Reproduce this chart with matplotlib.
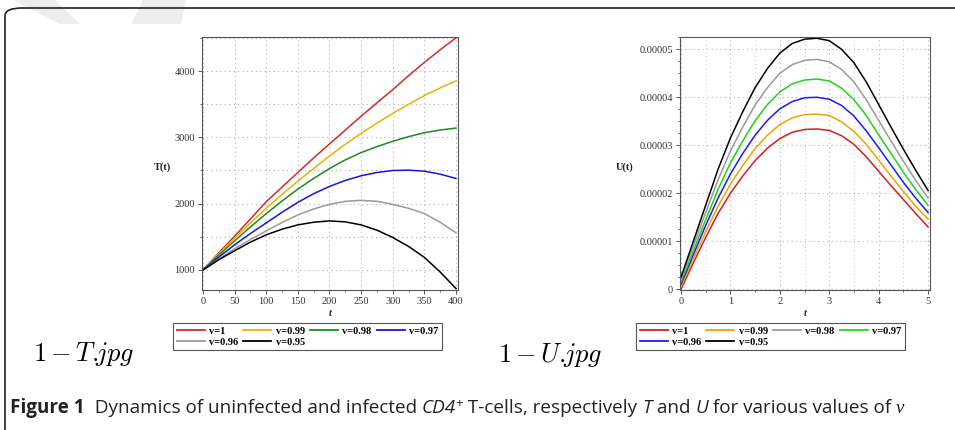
"""Recreation of Figure 1: T(t) and U(t) for various values of nu."""

import matplotlib

matplotlib.use("Agg")
import matplotlib.pyplot as plt
import matplotlib.ticker as mticker
from matplotlib.lines import Line2D
from matplotlib.patches import FancyBboxPatch, Polygon

# ---- data ----
nu_labels = ["v=1", "v=0.99", "v=0.98", "v=0.97", "v=0.96", "v=0.95"]

t_days = [0, 25, 50, 75, 100, 125, 150, 175, 200, 225, 250, 275, 300, 325, 350, 375, 400]
T_nu_100 = [1000, 1260, 1510, 1770, 2030, 2250, 2470, 2690, 2900, 3110, 3320, 3520, 3720, 3930, 4130, 4320, 4500]
T_nu_099 = [1000, 1245, 1480, 1710, 1930, 2140, 2340, 2530, 2720, 2895, 3060, 3215, 3360, 3500, 3630, 3745, 3850]
T_nu_098 = [1000, 1225, 1440, 1650, 1850, 2040, 2220, 2380, 2530, 2660, 2770, 2860, 2940, 3010, 3070, 3110, 3140]
T_nu_097 = [1000, 1195, 1380, 1550, 1710, 1870, 2020, 2150, 2260, 2350, 2420, 2470, 2500, 2505, 2490, 2445, 2380]
T_nu_096 = [1000, 1165, 1320, 1460, 1590, 1715, 1830, 1920, 1990, 2035, 2050, 2035, 1990, 1930, 1850, 1720, 1560]
T_nu_095 = [1000, 1155, 1290, 1420, 1530, 1615, 1680, 1720, 1740, 1725, 1680, 1600, 1490, 1355, 1190, 970, 720]

t_u = [0, 0.25, 0.5, 0.75, 1, 1.25, 1.5, 1.75, 2, 2.25, 2.5, 2.75, 3, 3.25, 3.5, 3.75, 4, 4.25, 4.5, 4.75, 5]
# U values in units of 1e-5
U_nu_100 = [0.0, 0.55, 1.08, 1.58, 2.0, 2.36, 2.68, 2.94, 3.14, 3.27, 3.33, 3.34, 3.31, 3.2, 3.02, 2.76, 2.46, 2.16, 1.87, 1.58, 1.3]
U_nu_099 = [0.05, 0.63, 1.2, 1.73, 2.19, 2.58, 2.93, 3.21, 3.43, 3.57, 3.64, 3.65, 3.62, 3.49, 3.29, 3.02, 2.69, 2.36, 2.04, 1.73, 1.46]
U_nu_098 = [0.1, 0.72, 1.33, 1.9, 2.4, 2.83, 3.21, 3.52, 3.76, 3.91, 3.99, 4.0, 3.96, 3.83, 3.61, 3.3, 2.95, 2.59, 2.23, 1.9, 1.6]
U_nu_097 = [0.15, 0.8, 1.45, 2.08, 2.63, 3.09, 3.51, 3.85, 4.11, 4.28, 4.36, 4.38, 4.34, 4.19, 3.95, 3.62, 3.22, 2.83, 2.44, 2.08, 1.75]
U_nu_096 = [0.2, 0.9, 1.6, 2.28, 2.88, 3.38, 3.84, 4.2, 4.5, 4.68, 4.77, 4.79, 4.74, 4.58, 4.32, 3.95, 3.52, 3.09, 2.67, 2.27, 1.9]
U_nu_095 = [0.25, 1.0, 1.75, 2.5, 3.15, 3.7, 4.2, 4.6, 4.92, 5.12, 5.21, 5.23, 5.18, 5.0, 4.72, 4.32, 3.85, 3.38, 2.92, 2.48, 2.06]

T_series = [T_nu_100, T_nu_099, T_nu_098, T_nu_097, T_nu_096, T_nu_095]
U_series = [U_nu_100, U_nu_099, U_nu_098, U_nu_097, U_nu_096, U_nu_095]

# colours differ between the two panels (Maple defaults)
T_colors = ["#d42a2a", "#e8b400", "#1c8a1c", "#1616d8", "#9a9a9a", "#000000"]
U_colors = ["#d41e1e", "#f0a400", "#9a9a9a", "#1fd21f", "#1a1aff", "#000000"]
U_legend_labels = ["v=1", "v=0.99", "v=0.98", "v=0.97", "v=0.96", "v=0.95"]
# which U series each U legend entry belongs to (gray/green/blue swap)
U_order = [0, 1, 4, 3, 2, 5]

W, H = 955, 430
SERIF = "Liberation Serif"
TICK_COLOR = "#333333"


def fx(px):
    return px / W


def fy(py):
    return 1 - py / H


def style_axes(ax):
    ax.grid(True, which="major", linestyle=(0, (1, 3)), color="#b0b0b0", linewidth=0.8)
    for sp in ax.spines.values():
        sp.set_color("#555555")
        sp.set_linewidth(0.8)
    ax.tick_params(axis="both", which="major", direction="out", length=3, width=0.7,
                   colors="#555555", labelcolor=TICK_COLOR, labelsize=7.5, pad=2)
    ax.tick_params(axis="both", which="minor", direction="out", length=1.5, width=0.6,
                   colors="#555555")
    for lab in ax.get_xticklabels() + ax.get_yticklabels():
        lab.set_fontfamily(SERIF)


def add_legend(fig, handles, labels, left_px, top_px):
    leg = fig.legend(handles, labels, ncol=4, loc="upper left",
                     bbox_to_anchor=(fx(left_px), fy(top_px)), borderaxespad=0,
                     frameon=True, fancybox=False, framealpha=1, edgecolor="#555555",
                     prop={"family": SERIF, "weight": "bold", "size": 7.5},
                     handlelength=2.7, handletextpad=0.4, columnspacing=0.5,
                     labelspacing=0.15, borderpad=0.35)
    leg.get_frame().set_linewidth(0.8)
    return leg


def row_major(items):
    # reorder so a 2-row, 4-column legend reads across rows
    return [items[0], items[4], items[1], items[5], items[2], items[3]]


fig = plt.figure(figsize=(W / 100, H / 100), dpi=100)
fig.patch.set_facecolor("white")

# ---- watermark and card border ----
fig.patches.append(Polygon([(fx(13), fy(0)), (fx(55), fy(0)), (fx(80), fy(24)), (fx(60), fy(24))],
                           closed=True, transform=fig.transFigure, facecolor="#ededed",
                           edgecolor="none", zorder=0))
fig.patches.append(Polygon([(fx(143), fy(0)), (fx(186), fy(0)), (fx(181), fy(24)), (fx(131), fy(24))],
                           closed=True, transform=fig.transFigure, facecolor="#ededed",
                           edgecolor="none", zorder=0))
fig.patches.append(FancyBboxPatch((fx(5), fy(470)), fx(1000), fy(8) - fy(470),
                                  boxstyle="round,pad=0,rounding_size=0.018",
                                  transform=fig.transFigure, facecolor="none",
                                  edgecolor="#222222", linewidth=1.2, zorder=1))

# ---- left panel: T(t) ----
ax_t = fig.add_axes([fx(202), fy(290), fx(458) - fx(202), fy(37) - fy(290)])
for vals, col in zip(T_series, T_colors):
    ax_t.plot(t_days, vals, color=col, linewidth=1.1)
ax_t.set_xlim(-1.6, 403.2)
ax_t.set_ylim(698, 4513)
ax_t.xaxis.set_major_locator(mticker.MultipleLocator(50))
ax_t.xaxis.set_minor_locator(mticker.MultipleLocator(25))
ax_t.yaxis.set_major_locator(mticker.MultipleLocator(1000))
style_axes(ax_t)
ax_t.yaxis.set_minor_locator(mticker.MultipleLocator(500))
ax_t.grid(True, which="minor", axis="y", linestyle=(0, (1, 3)), color="#b0b0b0", linewidth=0.8)

# ---- right panel: U(t) ----
ax_u = fig.add_axes([fx(680), fy(290), fx(930) - fx(680), fy(37) - fy(290)])
for vals, col in zip(U_series, [U_colors[U_order.index(i)] for i in range(6)]):
    ax_u.plot(t_u, [v * 1e-5 for v in vals], color=col, linewidth=1.1)
ax_u.set_xlim(-0.02, 5.04)
ax_u.set_ylim(-1.5e-7, 5.256e-5)
ax_u.xaxis.set_major_locator(mticker.MultipleLocator(1))
ax_u.xaxis.set_minor_locator(mticker.MultipleLocator(0.5))
ax_u.yaxis.set_major_locator(mticker.MultipleLocator(1e-5))
ax_u.yaxis.set_minor_locator(mticker.MultipleLocator(0.25e-5))
ax_u.yaxis.set_major_formatter(mticker.FuncFormatter(lambda v, _: "0" if abs(v) < 1e-9 else f"{v:.5f}"))
style_axes(ax_u)
ax_u.grid(True, which="minor", axis="x", linestyle=(0, (1, 3)), color="#c8c8c8", linewidth=0.7)

# ---- axis labels ----
fig.text(fx(162), fy(167), "T(t)", family=SERIF, weight="bold", size=7.5,
         ha="center", va="center", color="#222222")
fig.text(fx(625), fy(167), "U(t)", family=SERIF, weight="bold", size=7.5,
         ha="center", va="center", color="#222222")
fig.text(fx(330), fy(313), "t", family=SERIF, weight="bold", style="italic", size=7.5,
         ha="center", va="center", color="#222222")
fig.text(fx(805), fy(313), "t", family=SERIF, weight="bold", style="italic", size=7.5,
         ha="center", va="center", color="#222222")

# ---- legends ----
t_handles = [Line2D([], [], color=c, linewidth=1.3) for c in T_colors]
add_legend(fig, row_major(t_handles), row_major(nu_labels), 173, 323)
u_handles = [Line2D([], [], color=c, linewidth=1.3) for c in U_colors]
add_legend(fig, row_major(u_handles), row_major(U_legend_labels), 636, 323)

# ---- sub-figure captions ----
fig.text(fx(33), fy(361), r"$1 - T{.}\!\!jpg$", math_fontfamily="cm", size=19,
         ha="left", va="baseline", color="black")
fig.text(fx(498), fy(362), r"$1 - U{.}\!\!jpg$", math_fontfamily="cm", size=19,
         ha="left", va="baseline", color="black")

# ---- figure caption, drawn piece by piece ----
CAP = "Open Sans"
pieces = [
    ("Figure 1", {"weight": "bold", "family": CAP}),
    ("  Dynamics of uninfected and infected ", {"family": CAP}),
    ("CD4", {"family": CAP, "style": "italic"}),
    ("+", {"family": CAP, "size_scale": 0.7, "raise": 6}),
    (" T-cells, respectively ", {"family": CAP}),
    ("T", {"family": CAP, "style": "italic"}),
    (" and ", {"family": CAP}),
    ("U", {"family": CAP, "style": "italic"}),
    (" for various values of ", {"family": CAP}),
    ("\u03bd", {"family": SERIF, "style": "italic"}),
]
cap_size = 13.6
renderer = fig.canvas.get_renderer()
x_px = 10
base_py = 413
for txt, opts in pieces:
    opts = dict(opts)
    scale = opts.pop("size_scale", 1.0)
    rise = opts.pop("raise", 0)
    tx = fig.text(fx(x_px), fy(base_py - rise), txt, size=cap_size * scale,
                  ha="left", va="baseline", color="#222222", **opts)
    bb = tx.get_window_extent(renderer=renderer)
    x_px += bb.width

fig.savefig("out.png", dpi=100)
